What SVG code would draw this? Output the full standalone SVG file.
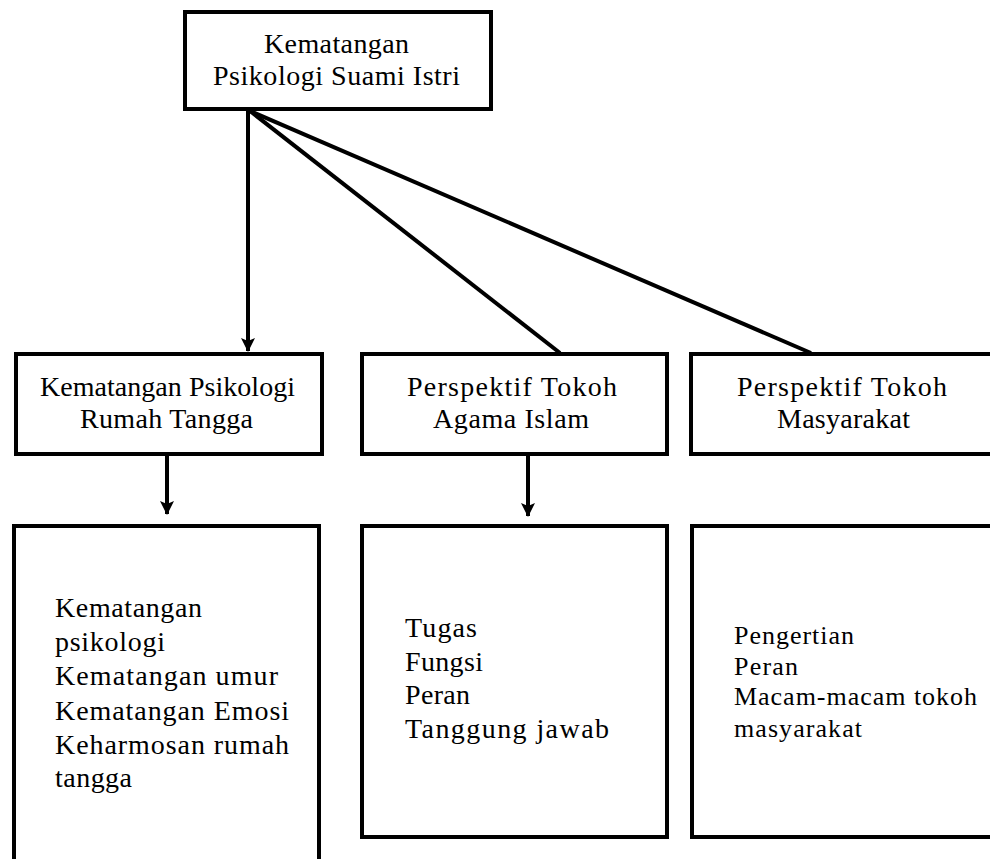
<svg xmlns="http://www.w3.org/2000/svg" width="990" height="859" viewBox="0 0 990 859">
<style>
.box{fill:#fff;stroke:#000;stroke-width:4}
.t{font-family:"Liberation Serif","Times New Roman",serif;font-size:28px;fill:#000}
.s{font-size:26px}
.c{fill:none;stroke:#000;stroke-width:4}
</style>
<defs>
<marker id="ah2" markerWidth="14" markerHeight="14" refX="13" refY="7" orient="auto" markerUnits="userSpaceOnUse" viewBox="0 0 14 14">
<path d="M0,0 L14,7 L0,14 L3,7 z" fill="#000"/>
</marker>
</defs>
<rect width="990" height="859" fill="#fff"/>
<g id="connectors">
<line class="c" x1="248" y1="111" x2="248" y2="351" marker-end="url(#ah2)"/>
<line class="c" x1="250" y1="111" x2="560" y2="353"/>
<line class="c" x1="250" y1="111" x2="811" y2="353"/>
<line class="c" x1="167" y1="456" x2="167" y2="514" marker-end="url(#ah2)"/>
<line class="c" x1="528" y1="456" x2="528" y2="516" marker-end="url(#ah2)"/>
</g>
<g id="node-root">
<rect class="box" x="185" y="12" width="306" height="97"/>
<text class="t" x="264" y="53" textLength="145" lengthAdjust="spacing">Kematangan</text>
<text class="t" x="213" y="85" textLength="247" lengthAdjust="spacing">Psikologi Suami Istri</text>
</g>
<g id="node-rumah-tangga">
<rect class="box" x="16" y="354" width="306" height="100"/>
<text class="t" x="40" y="396" textLength="255" lengthAdjust="spacing">Kematangan Psikologi</text>
<text class="t" x="80" y="428" textLength="173" lengthAdjust="spacing">Rumah Tangga</text>
</g>
<g id="node-agama">
<rect class="box" x="362" y="354" width="305" height="100"/>
<text class="t" x="407" y="396" textLength="210" lengthAdjust="spacing">Perspektif Tokoh</text>
<text class="t" x="433" y="428" textLength="156" lengthAdjust="spacing">Agama Islam</text>
</g>
<g id="node-masyarakat">
<rect class="box" x="691" y="354" width="310" height="100"/>
<text class="t" x="737" y="396" textLength="210" lengthAdjust="spacing">Perspektif Tokoh</text>
<text class="t" x="777" y="428" textLength="133" lengthAdjust="spacing">Masyarakat</text>
</g>
<g id="node-detail-rumah-tangga">
<rect class="box" x="14" y="526" width="305" height="345"/>
<text class="t" x="55" y="617" textLength="147" lengthAdjust="spacing">Kematangan</text>
<text class="t" x="55" y="651" textLength="110" lengthAdjust="spacing">psikologi</text>
<text class="t" x="55" y="685" textLength="223" lengthAdjust="spacing">Kematangan umur</text>
<text class="t" x="55" y="720" textLength="234" lengthAdjust="spacing">Kematangan Emosi</text>
<text class="t" x="55" y="754" textLength="234" lengthAdjust="spacing">Keharmosan rumah</text>
<text class="t" x="55" y="787" textLength="77" lengthAdjust="spacing">tangga</text>
</g>
<g id="node-detail-agama">
<rect class="box" x="362" y="526" width="305" height="311"/>
<text class="t" x="405" y="637" textLength="72" lengthAdjust="spacing">Tugas</text>
<text class="t" x="405" y="671" textLength="78" lengthAdjust="spacing">Fungsi</text>
<text class="t" x="405" y="704" textLength="65" lengthAdjust="spacing">Peran</text>
<text class="t" x="405" y="738" textLength="204" lengthAdjust="spacing">Tanggung  jawab</text>
</g>
<g id="node-detail-masyarakat">
<rect class="box" x="692" y="526" width="310" height="311"/>
<text class="t s" x="734" y="644" textLength="120" lengthAdjust="spacing">Pengertian</text>
<text class="t s" x="734" y="675" textLength="64" lengthAdjust="spacing">Peran</text>
<text class="t s" x="734" y="705" textLength="243" lengthAdjust="spacing">Macam-macam tokoh</text>
<text class="t s" x="734" y="737" textLength="128" lengthAdjust="spacing">masyarakat</text>
</g>
</svg>
